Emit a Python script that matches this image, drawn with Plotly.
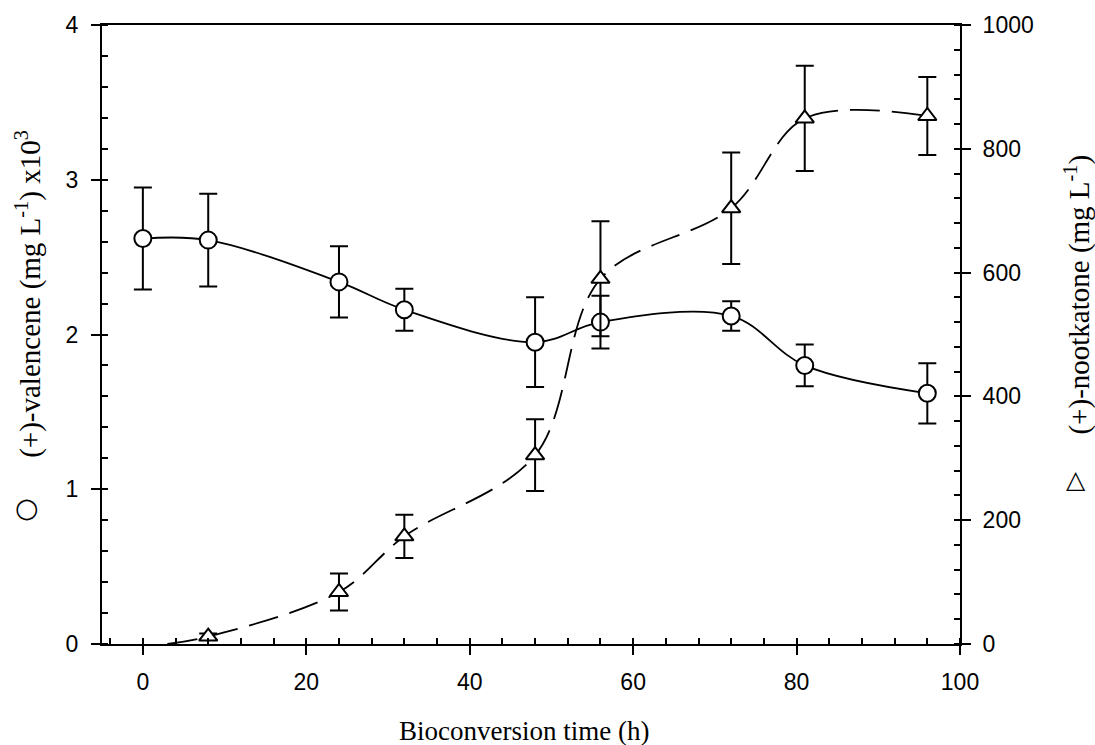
import plotly.graph_objects as go

# ---- data ----
time_val = [0, 8, 24, 32, 48, 56, 72, 81, 96]
valencene = [2.62, 2.61, 2.34, 2.16, 1.95, 2.08, 2.12, 1.80, 1.62]          # mg/L x10^3
valencene_err = [0.33, 0.30, 0.23, 0.135, 0.29, 0.17, 0.095, 0.135, 0.195]

time_noot = [8, 24, 32, 48, 56, 72, 81, 96]
nootkatone = [12, 84, 174, 305, 590, 704, 849, 853]                          # mg/L
nootkatone_err = [5, 30, 35, 58, 93, 90, 85, 63]

# nootkatone curve starts from zero at the beginning
noot_line_time = [3, 8, 24, 32, 48, 56, 72, 81, 96]
noot_line = [0, 12, 84, 174, 305, 590, 704, 849, 853]

x_ticks = [0, 20, 40, 60, 80, 100]
y1_ticks = [0, 1, 2, 3, 4]
y2_ticks = [0, 200, 400, 600, 800, 1000]

BLACK = "#000000"
TICK_FONT = dict(family="Liberation Sans, Arial, sans-serif", size=23, color=BLACK)
TITLE_FONT = dict(family="Liberation Serif, Times New Roman, serif", size=27, color=BLACK)
YTITLE_FONT = dict(family="Liberation Serif, Times New Roman, serif", size=29, color=BLACK)

fig = go.Figure()

fig.add_trace(go.Scatter(
    x=time_val, y=valencene, mode="lines", line=dict(color=BLACK, width=1.8, shape="spline"),
    yaxis="y", showlegend=False, hoverinfo="skip"))
fig.add_trace(go.Scatter(
    x=time_val, y=valencene, mode="markers", yaxis="y", showlegend=False,
    marker=dict(symbol="circle", size=17, color="white", line=dict(color=BLACK, width=2)),
    error_y=dict(type="data", array=valencene_err, visible=True, color=BLACK, thickness=2, width=9)))

fig.add_trace(go.Scatter(
    x=noot_line_time, y=noot_line, mode="lines",
    line=dict(color=BLACK, width=1.8, shape="spline", dash="30px,12px"),
    yaxis="y2", showlegend=False, hoverinfo="skip"))
fig.add_trace(go.Scatter(
    x=time_noot, y=nootkatone, mode="markers", yaxis="y2", showlegend=False,
    marker=dict(symbol="triangle-up", size=16, color="white", line=dict(color=BLACK, width=2)),
    error_y=dict(type="data", array=nootkatone_err, visible=True, color=BLACK, thickness=2, width=9)))

axis_common = dict(
    showline=True, linecolor=BLACK, linewidth=2, showgrid=False, zeroline=False,
    ticks="outside", ticklen=9, tickwidth=2, tickcolor=BLACK, tickfont=TICK_FONT,
)

fig.update_layout(
    width=1095, height=745,
    margin=dict(l=102, r=135, t=25, b=101),
    paper_bgcolor="white", plot_bgcolor="white",
    xaxis=dict(range=[-5, 100], tickvals=x_ticks, ticktext=[str(v) for v in x_ticks],
               mirror=True, ticklabelstandoff=7,
               minor=dict(ticks="inside", dtick=4, tick0=0, ticklen=6, tickwidth=2, tickcolor=BLACK),
               **axis_common),
    yaxis=dict(range=[0, 4], tickvals=y1_ticks, ticktext=[str(v) for v in y1_ticks],
               ticklabelstandoff=8,
               minor=dict(ticks="inside", dtick=0.2, tick0=0, ticklen=6, tickwidth=2, tickcolor=BLACK),
               **axis_common),
    yaxis2=dict(range=[0, 1000], tickvals=y2_ticks, ticktext=[str(v) for v in y2_ticks],
                overlaying="y", side="right", ticklabelstandoff=7,
                minor=dict(ticks="inside", dtick=40, tick0=0, ticklen=6, tickwidth=2, tickcolor=BLACK),
                **axis_common),
)

annotations = [
    dict(text="Bioconversion time (h)", xref="paper", yref="paper", x=0.492, y=-0.14,
         xanchor="center", yanchor="middle", showarrow=False, font=TITLE_FONT),
    dict(text="(+)-valencene (mg L<sup>-1</sup>) x10<sup>3</sup>", xref="paper", yref="paper",
         x=-0.086, y=0.566, xanchor="center", yanchor="middle", textangle=-90,
         showarrow=False, font=YTITLE_FONT),
    dict(text="○", xref="paper", yref="paper", x=-0.0874, y=0.2213,
         xanchor="center", yanchor="middle", showarrow=False,
         font=dict(family="DejaVu Sans", size=27, color=BLACK)),
    dict(text="(+)-nootkatone (mg L<sup>-1</sup>)", xref="paper", yref="paper",
         x=1.1364, y=0.5646, xanchor="center", yanchor="middle", textangle=-90,
         showarrow=False, font=YTITLE_FONT),
    dict(text="△", xref="paper", yref="paper", x=1.1352, y=0.265,
         xanchor="center", yanchor="middle", showarrow=False,
         font=dict(family="DejaVu Sans", size=25, color=BLACK)),
]
fig.update_layout(annotations=annotations)

fig.write_html("out.html")
